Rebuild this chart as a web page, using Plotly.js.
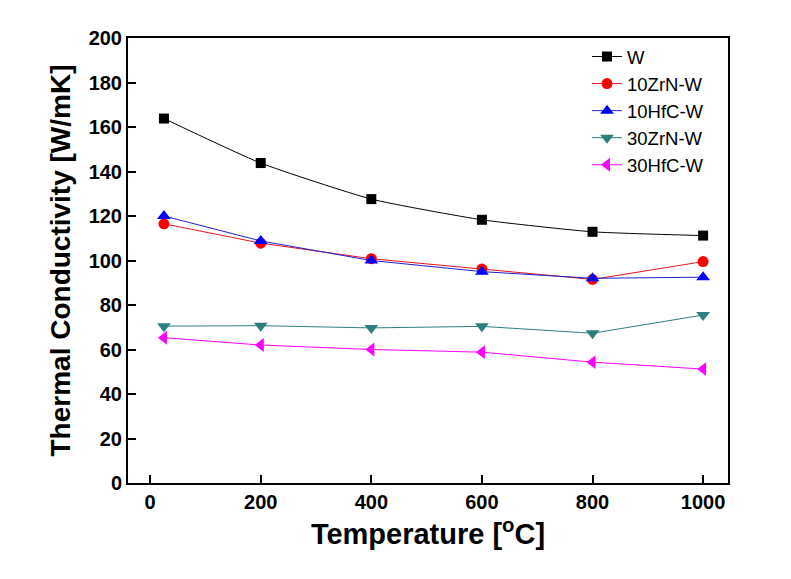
<!DOCTYPE html>
<html>
<head>
<meta charset="utf-8">
<script src="https://cdn.plot.ly/plotly-3.0.1.min.js"></script>
<style>html,body{margin:0;padding:0;background:#fff;}#chart{width:791px;height:579px;}</style>
</head>
<body>
<div id="chart"></div>
<script>
var temperature = [25, 200, 400, 600, 800, 1000];
var W = [163.8, 143.8, 127.6, 118.3, 112.9, 111.2];
var ZrN10 = [116.5, 107.8, 100.8, 96.2, 91.5, 99.5];
var HfC10 = [120.0, 108.8, 100.0, 95.0, 92.0, 92.5];
var ZrN30 = [70.5, 70.7, 69.7, 70.4, 67.3, 75.5];
var HfC30 = [65.3, 62.0, 60.0, 58.8, 54.3, 51.2];
var seriesNames = ['W', '10ZrN-W', '10HfC-W', '30ZrN-W', '30HfC-W'];
var xTicks = [0, 200, 400, 600, 800, 1000];
var yTicks = [0, 20, 40, 60, 80, 100, 120, 140, 160, 180, 200];

var traces = [
  {x: temperature, y: W, name: seriesNames[0], mode: 'lines+markers', line: {color: '#000000', width: 1, shape: 'spline', smoothing: 0.5}, marker: {symbol: 'square', size: 10, color: '#000000'}},
  {x: temperature, y: ZrN10, name: seriesNames[1], mode: 'lines+markers', line: {color: '#e8141e', width: 1}, marker: {symbol: 'circle', size: 11, color: '#ff0000'}},
  {x: temperature, y: HfC10, name: seriesNames[2], mode: 'lines+markers', line: {color: '#2020d0', width: 1}, marker: {symbol: 'triangle-up', size: 12, color: '#0000ff'}},
  {x: temperature, y: ZrN30, name: seriesNames[3], mode: 'lines+markers', line: {color: '#2a7f7f', width: 1}, marker: {symbol: 'triangle-down', size: 12, color: '#2a7f7f'}},
  {x: temperature, y: HfC30, name: seriesNames[4], mode: 'lines+markers', line: {color: '#ff00ff', width: 1}, marker: {symbol: 'triangle-left', size: 12, color: '#ff00ff'}}
];

var fontFam = 'Liberation Sans, Arial, sans-serif';
var layout = {
  width: 791, height: 579,
  margin: {l: 128, r: 63, t: 38, b: 96},
  paper_bgcolor: '#ffffff', plot_bgcolor: '#ffffff',
  showlegend: true,
  legend: {x: 0.765, y: 1.0, xanchor: 'left', yanchor: 'top', bgcolor: 'rgba(0,0,0,0)', font: {family: fontFam, size: 18.5, color: '#000'}, tracegroupgap: 0},
  xaxis: {
    range: [-40, 1045], tickvals: xTicks, ticktext: xTicks.map(String),
    showgrid: false, zeroline: false, showline: true, linecolor: '#000', linewidth: 2, mirror: true,
    ticks: 'inside', ticklen: 8, tickwidth: 2, tickcolor: '#000',
    tickfont: {family: fontFam, size: 20, color: '#000', weight: 'bold'},
    title: {text: 'Temperature [<sup>o</sup>C]', font: {family: fontFam, size: 29, color: '#000', weight: 'bold'}, standoff: 12}
  },
  yaxis: {
    range: [0, 200], tickvals: yTicks, ticktext: yTicks.map(String),
    showgrid: false, zeroline: false, showline: true, linecolor: '#000', linewidth: 2, mirror: true,
    ticks: 'inside', ticklen: 8, tickwidth: 2, tickcolor: '#000',
    tickfont: {family: fontFam, size: 20, color: '#000', weight: 'bold'},
    title: {text: 'Thermal Conductivity [W/mK]', font: {family: fontFam, size: 28, color: '#000', weight: 'bold'}, standoff: 10}
  }
};

Plotly.newPlot('chart', traces, layout, {displayModeBar: false, staticPlot: true});
</script>
</body>
</html>
